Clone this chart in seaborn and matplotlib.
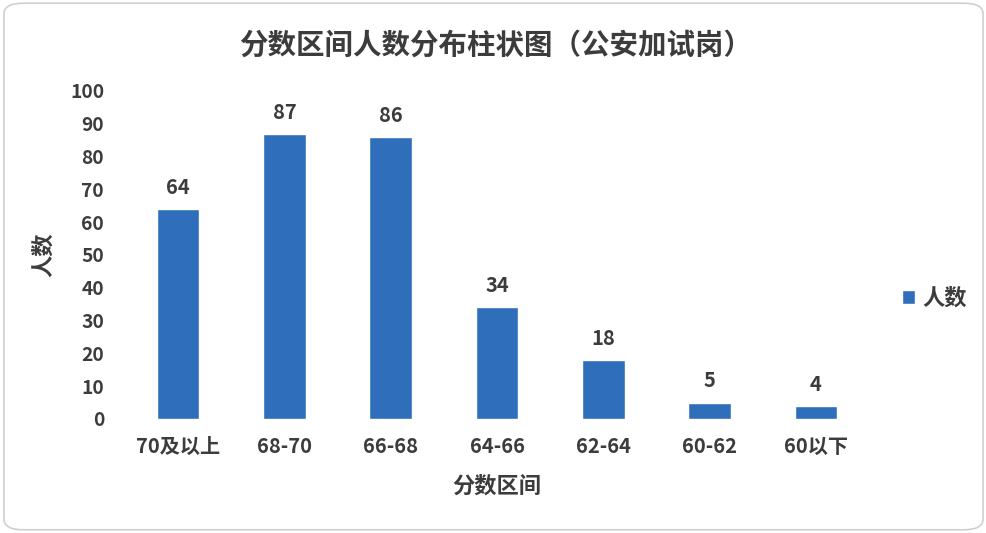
import matplotlib
matplotlib.use("Agg")
import matplotlib.pyplot as plt
import seaborn as sns
import pandas as pd
from matplotlib.patches import FancyBboxPatch

categories = ["70及以上", "68-70", "66-68", "64-66", "62-64", "60-62", "60以下"]
counts = [64, 87, 86, 34, 18, 5, 4]
series_name = "人数"
title = "分数区间人数分布柱状图（公安加试岗）"
xlabel = "分数区间"
ylabel = "人数"

sns.set_theme(style="white")
plt.rcParams['font.family'] = ['Noto Sans CJK SC', 'DejaVu Sans']
text_color = "#3C3C3C"
bar_color = "#2F6EBA"

df = pd.DataFrame({"区间": categories, series_name: counts})

fig = plt.figure(figsize=(9.87, 5.33), dpi=100)
border = FancyBboxPatch((0.004, 0.006), 0.992, 0.988,
                        boxstyle="round,pad=0,rounding_size=0.02",
                        transform=fig.transFigure, facecolor="white",
                        edgecolor="#D0D0D0", linewidth=1.2, zorder=-10)
fig.patches.append(border)

ax = fig.add_axes([0.1266, 0.2139, 0.7539, 0.6154])
ax.set_facecolor("none")
sns.barplot(data=df, x="区间", y=series_name, color=bar_color, width=0.4,
            ax=ax, label=series_name, saturation=1)
ax.set_ylim(0, 100)
ax.set_xlim(-0.5, len(categories) - 0.5)
ax.set_yticks(range(0, 101, 10))
for s in ax.spines.values():
    s.set_visible(False)
ax.tick_params(axis='both', length=0, colors=text_color)
ax.tick_params(axis='x', pad=12, labelsize=14.5)
ax.tick_params(axis='y', pad=15, labelsize=13.8)
for lab in ax.get_xticklabels() + ax.get_yticklabels():
    lab.set_fontweight('bold')
ax.set_xlabel(xlabel, fontsize=16, fontweight='bold', color=text_color, labelpad=13)
ax.set_ylabel(ylabel, fontsize=16, fontweight='bold', color=text_color, labelpad=11)
for c in ax.containers:
    ax.bar_label(c, padding=8, fontsize=14.5, fontweight='bold', color=text_color)

fig.text(0.502, 0.915, title, ha='center', va='center', fontsize=20.5,
         fontweight='bold', color=text_color)

leg = ax.legend(loc='center left', bbox_to_anchor=(0.894, 0.44),
                bbox_transform=fig.transFigure, frameon=False,
                handlelength=0.55, handleheight=0.55, handletextpad=0.35,
                prop={'size': 16, 'weight': 'bold'})
for t in leg.get_texts():
    t.set_color(text_color)

fig.savefig("out.png", dpi=100)
